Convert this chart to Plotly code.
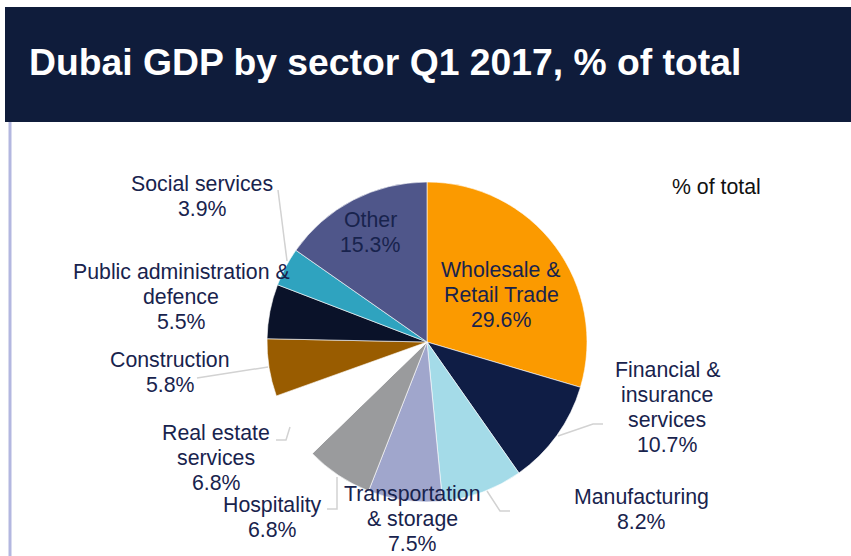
import plotly.graph_objects as go

# Sector shares of Dubai GDP, Q1 2017 (% of total), clockwise from 12 o'clock
sectors = [
    "Wholesale & Retail Trade",
    "Financial & insurance services",
    "Manufacturing",
    "Transportation & storage",
    "Hospitality",
    "Real estate services",
    "Construction",
    "Public administration & defence",
    "Social services",
    "Other",
]
shares = [29.6, 10.7, 8.2, 7.5, 6.8, 6.8, 5.8, 5.5, 3.9, 15.3]
colors = [
    "#fb9a00", "#0f1d45", "#a4dbe8", "#a0a6cc", "#9a9b9d",
    "#ffffff", "#995c00", "#0a1229", "#2fa3bf", "#4f568a",
]

W, H = 851, 556
CX, CY, R = 427, 342, 160

# Label text split into lines, with the centre of the first line and line step
label_lines = {
    "Wholesale & Retail Trade": ["Wholesale &", "Retail Trade"],
    "Financial & insurance services": ["Financial &", "insurance", "services"],
    "Manufacturing": ["Manufacturing"],
    "Transportation & storage": ["Transportation", "& storage"],
    "Hospitality": ["Hospitality"],
    "Real estate services": ["Real estate", "services"],
    "Construction": ["Construction"],
    "Public administration & defence": ["Public administration &", "defence"],
    "Social services": ["Social services"],
    "Other": ["Other"],
}
label_pos = {
    "Wholesale & Retail Trade": (501, 270),
    "Financial & insurance services": (667, 370),
    "Manufacturing": (641, 497),
    "Transportation & storage": (412, 494),
    "Hospitality": (272, 505),
    "Real estate services": (216, 433),
    "Construction": (170, 360),
    "Public administration & defence": (181, 272),
    "Social services": (202, 184),
    "Other": (370, 220),
}
# Leader line polylines (pixel coordinates)
leaders = [
    [(278, 190), (287, 261)],
    [(197, 378), (268, 367)],
    [(276, 440), (286, 440), (290, 427)],
    [(327, 509), (337, 509), (337, 477)],
    [(487, 491), (500, 511), (510, 511)],
    [(558, 436), (593, 424), (603, 424)],
]

LINE_STEP = 25
TEXT_COLOR = "#18234d"
FONT = "Liberation Sans, Arial, sans-serif"
FS = 21.3


def px(x):
    return x / W


def py(y):
    return 1 - y / H


fig = go.Figure()
fig.add_trace(go.Pie(
    labels=sectors,
    values=shares,
    sort=False,
    direction="clockwise",
    rotation=0,
    marker=dict(colors=colors, line=dict(color="#ffffff", width=0.6)),
    textinfo="none",
    hoverinfo="label+percent",
    showlegend=False,
    domain=dict(x=[px(CX - R), px(CX + R)], y=[py(CY + R), py(CY - R)]),
))

annotations = []
for name, val in zip(sectors, shares):
    lines = label_lines[name] + [f"{val:.1f}%"]
    x0, y0 = label_pos[name]
    for i, t in enumerate(lines):
        annotations.append(dict(
            x=px(x0), y=py(y0 + i * LINE_STEP), xref="paper", yref="paper",
            text=t, showarrow=False, xanchor="center", yanchor="middle",
            font=dict(family=FONT, size=FS, color=TEXT_COLOR),
        ))

annotations.append(dict(
    x=px(716), y=py(187), xref="paper", yref="paper", text="% of total",
    showarrow=False, xanchor="center", yanchor="middle",
    font=dict(family=FONT, size=FS, color="#111111"),
))
annotations.append(dict(
    x=px(27), y=py(62), xref="paper", yref="paper",
    text="<b>Dubai GDP by sector Q1 2017, % of total</b>",
    showarrow=False, xanchor="left", yanchor="middle",
    font=dict(family=FONT, size=37.3, color="#ffffff"),
))

shapes = [
    # header band
    dict(type="rect", xref="paper", yref="paper", x0=px(5), x1=1.0,
         y0=py(122), y1=py(7), fillcolor="#0f1c3b", line=dict(width=0),
         layer="below"),
    # left rule
    dict(type="line", xref="paper", yref="paper", x0=px(10), x1=px(10),
         y0=py(122), y1=0, line=dict(color="#b3b7e0", width=3)),
]
for pts in leaders:
    path = "M " + " L ".join(f"{px(x)},{py(y)}" for x, y in pts)
    shapes.append(dict(type="path", xref="paper", yref="paper", path=path,
                       line=dict(color="#d2d2d2", width=1.5)))

fig.update_layout(
    width=W, height=H,
    margin=dict(l=0, r=0, t=0, b=0),
    paper_bgcolor="#ffffff",
    plot_bgcolor="#ffffff",
    annotations=annotations,
    shapes=shapes,
)

fig.write_html("out.html")
